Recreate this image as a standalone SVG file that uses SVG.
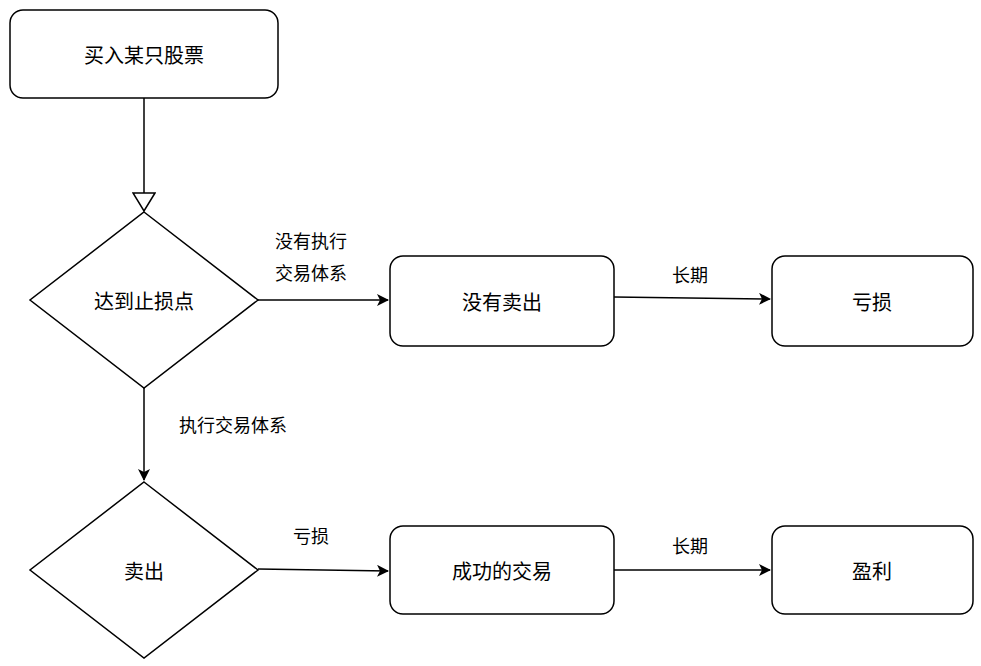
<svg xmlns="http://www.w3.org/2000/svg" width="981" height="666" viewBox="0 0 981 666">
<style>
.n{fill:#fff;stroke:#000;stroke-width:1.5}
.t{font-family:"Noto Sans CJK SC",sans-serif;font-size:20px;fill:#000;text-anchor:middle;dominant-baseline:central}
.l{font-family:"Noto Sans CJK SC",sans-serif;font-size:18px;fill:#000;text-anchor:middle;dominant-baseline:central}
.c{fill:none;stroke:#000;stroke-width:1.5}
</style>
<defs>
<marker id="a" viewBox="0 0 12 12" refX="11" refY="6" markerWidth="12" markerHeight="12" markerUnits="userSpaceOnUse" orient="auto"><path d="M0,0 L12,6 L0,12 L3,6 Z" fill="#000"/></marker>
<marker id="h" viewBox="0 0 20 24" refX="19" refY="12" markerWidth="20" markerHeight="24" markerUnits="userSpaceOnUse" orient="auto"><path d="M1,1 L19,12 L1,23 Z" fill="#fff" stroke="#000" stroke-width="1.5"/></marker>
</defs>
<g id="connectors">
<path class="c" d="M144,98 V211" marker-end="url(#h)"/>
<path class="c" d="M258,300 H388" marker-end="url(#a)"/>
<path class="c" d="M614,297 L770,299" marker-end="url(#a)"/>
<path class="c" d="M144,388 V480" marker-end="url(#a)"/>
<path class="c" d="M258,569 L388,571" marker-end="url(#a)"/>
<path class="c" d="M614,570 H770" marker-end="url(#a)"/>
<text class="l" x="311" y="240">没有执行</text>
<text class="l" x="311" y="272">交易体系</text>
<text class="l" x="690" y="274">长期</text>
<text class="l" x="233" y="424">执行交易体系</text>
<text class="l" x="311" y="535">亏损</text>
<text class="l" x="690" y="545">长期</text>
</g>
<g id="n1"><rect class="n" x="10" y="10" width="268" height="88" rx="13"/><text class="t" x="144" y="54">买入某只股票</text></g>
<g id="n2"><path class="n" d="M144,212 L258,300 L144,388 L30,300 Z"/><text class="t" x="144" y="300">达到止损点</text></g>
<g id="n3"><rect class="n" x="390" y="256" width="224" height="90" rx="13"/><text class="t" x="502" y="301">没有卖出</text></g>
<g id="n4"><rect class="n" x="772" y="256" width="201" height="90" rx="13"/><text class="t" x="872" y="301">亏损</text></g>
<g id="n5"><path class="n" d="M144,482 L258,570 L144,658 L30,570 Z"/><text class="t" x="144" y="570">卖出</text></g>
<g id="n6"><rect class="n" x="390" y="526" width="224" height="88" rx="13"/><text class="t" x="502" y="570">成功的交易</text></g>
<g id="n7"><rect class="n" x="772" y="526" width="201" height="88" rx="13"/><text class="t" x="872" y="570">盈利</text></g>
</svg>
